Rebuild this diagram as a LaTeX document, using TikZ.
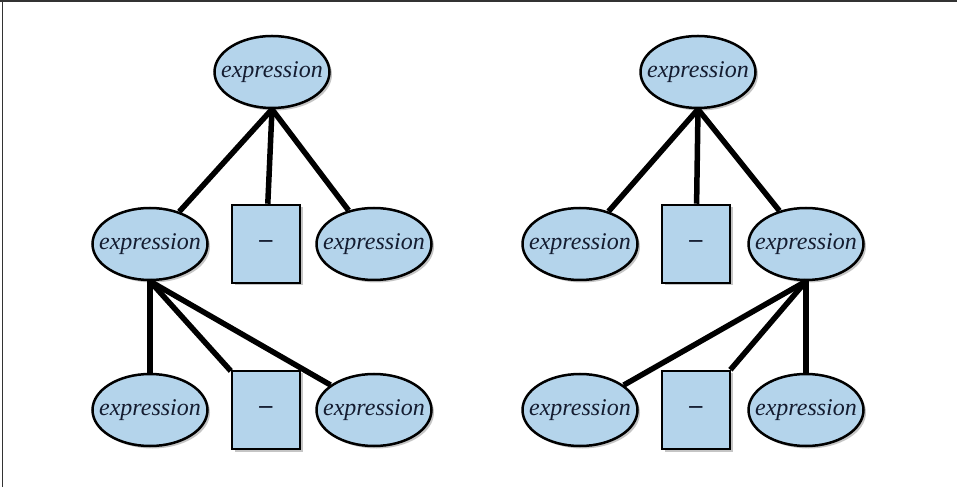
\documentclass[tikz,border=0pt]{standalone}
\usepackage{fontspec}
\setmainfont{Liberation Serif}
\usepackage{xcolor}
\usetikzlibrary{shapes,positioning,shadows}

\definecolor{nodeblue}{RGB}{180,212,235}
\definecolor{inkblue}{RGB}{20,28,48}
\newcommand{\ex}{\makebox[0pt]{expression}}
\newcommand{\mn}{\makebox[0pt]{\bfseries --}}

\begin{document}
\begin{tikzpicture}[
      x = 1pt, y = 1pt,
      on grid,
      node distance = 166pt
    ]
    \tikzstyle{tree line} = [line width=5.5pt]
    \tikzstyle{expr} = [ellipse, draw, line width=2.5pt, fill=nodeblue,
      minimum width=115pt, minimum height=72pt, inner sep=0pt,
      text=inkblue, font=\fontsize{24}{28}\selectfont\itshape,
      drop shadow={shadow xshift=2.5pt, shadow yshift=-2.5pt, fill=black!45}]
    \tikzstyle{op} = [rectangle, draw, line width=2.5pt, fill=nodeblue,
      minimum width=68pt, minimum height=78pt, inner sep=0pt,
      text=inkblue, font=\fontsize{26}{30}\selectfont\itshape,
      drop shadow={shadow xshift=2.5pt, shadow yshift=-2.5pt, fill=black!45}]
    \useasboundingbox (0,0) rectangle (957,487);
    \draw[black!80, line width=1.6pt] (0,486) -- (957,486);
    \draw[black!80, line width=1.6pt] (2.5,0) -- (2.5,487);
    % left tree
    \node[expr] (LTop) at (272,415) {\ex};
    \node[expr] (LMidA) at (150,243) {\ex};
    \node[op] (LMidB) [right=116pt of LMidA] {\mn};
    \node[expr] (LMidC) [right=108pt of LMidB] {\ex};
    \node[expr] (LBotA) [below=of LMidA] {\ex};
    \node[op] (LBotB) [below=of LMidB] {\mn};
    \node[expr] (LBotC) [below=of LMidC] {\ex};
    \draw[tree line] (LTop.south) -- (LMidA);
    \draw[tree line] (LTop.south) -- (LMidB);
    \draw[tree line] (LTop.south) -- (LMidC);
    \draw[tree line] (LMidA.south) -- (LBotA);
    \draw[tree line] (LMidA.south) -- (LBotB);
    \draw[tree line] (LMidA.south) -- (LBotC);
    % right tree
    \node[expr] (RTop) at (698,415) {\ex};
    \node[expr] (RMidA) at (580,243) {\ex};
    \node[op] (RMidB) [right=116pt of RMidA] {\mn};
    \node[expr] (RMidC) [right=110pt of RMidB] {\ex};
    \node[expr] (RBotA) [below=of RMidA] {\ex};
    \node[op] (RBotB) [below=of RMidB] {\mn};
    \node[expr] (RBotC) [below=of RMidC] {\ex};
    \draw[tree line] (RTop.south) -- (RMidA);
    \draw[tree line] (RTop.south) -- (RMidB);
    \draw[tree line] (RTop.south) -- (RMidC);
    \draw[tree line] (RMidC.south) -- (RBotA);
    \draw[tree line] (RMidC.south) -- (RBotB);
    \draw[tree line] (RMidC.south) -- (RBotC);
  \end{tikzpicture}
\end{document}
